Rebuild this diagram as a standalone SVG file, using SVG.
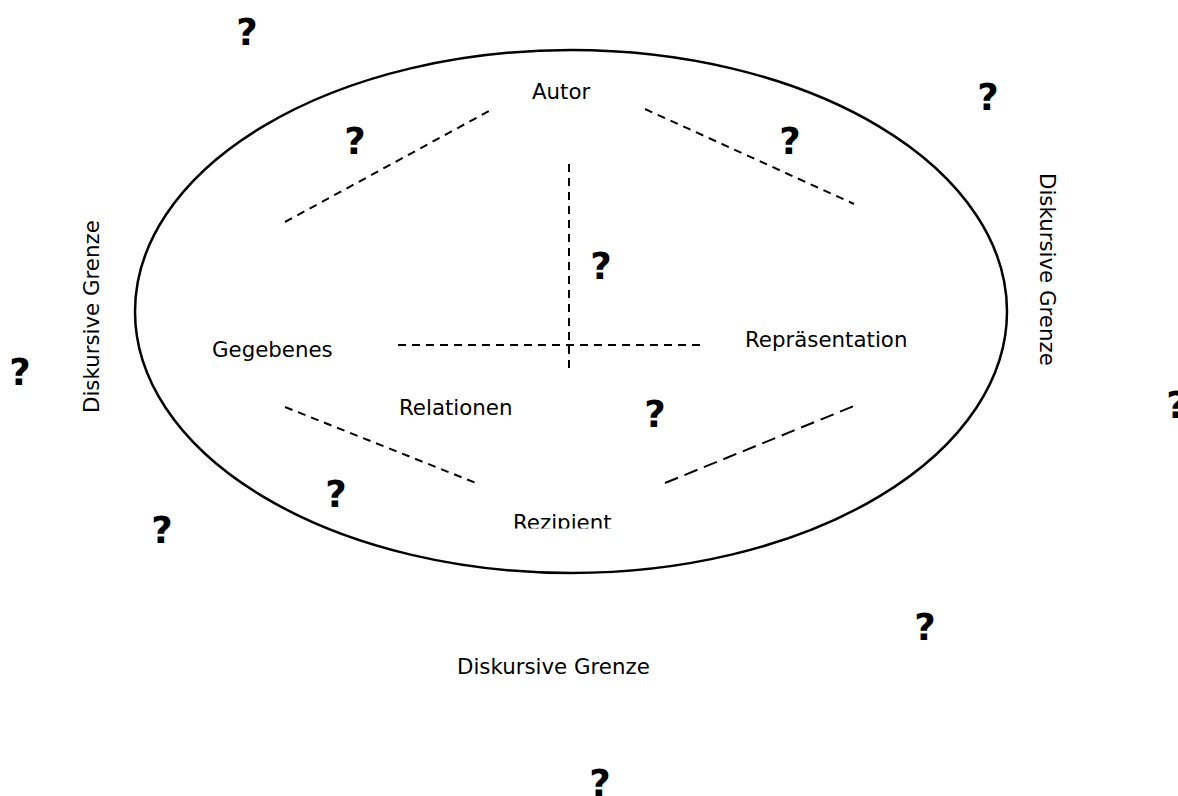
<svg xmlns="http://www.w3.org/2000/svg" width="1178" height="796" viewBox="0 0 1178 796">
<style>
.lbl{font-family:"DejaVu Sans","Verdana",sans-serif;font-size:21.33px;fill:#000}
.q{font-family:"DejaVu Sans","Verdana",sans-serif;font-size:37px;font-weight:bold;fill:#000;text-anchor:middle}
.d{stroke:#000;stroke-width:2;fill:none;stroke-dasharray:8 6}
.d2{stroke:#000;stroke-width:2;fill:none;stroke-dasharray:14 7}
</style>
<defs>
<clipPath id="clipR"><rect x="490" y="490" width="150" height="38.5"/></clipPath>
</defs>
<rect width="1178" height="796" fill="#fff"/>
<g id="boundary">
<ellipse cx="571" cy="311.5" rx="436" ry="261.5" fill="none" stroke="#000" stroke-width="2.5"/>
</g>
<g id="connectors">
<line class="d" x1="285" y1="222" x2="489" y2="111"/>
<line class="d" x1="645" y1="109" x2="854" y2="204"/>
<line class="d" x1="569" y1="164" x2="569" y2="369"/>
<line class="d" x1="398" y1="345" x2="703" y2="345"/>
<line class="d" x1="285" y1="407" x2="476" y2="483"/>
<line class="d2" x1="665" y1="483" x2="854" y2="406"/>
</g>
<g id="autor"><text class="lbl" x="532" y="99">Autor</text></g>
<g id="gegebenes"><text class="lbl" x="212" y="357">Gegebenes</text></g>
<g id="relationen"><text class="lbl" x="399" y="415">Relationen</text></g>
<g id="repraesentation"><text class="lbl" x="745" y="347">Repräsentation</text></g>
<g id="rezipient"><text class="lbl" x="513" y="530" clip-path="url(#clipR)">Rezipient</text></g>
<g id="grenze-left"><text class="lbl" transform="translate(99,413) rotate(-90)">Diskursive Grenze</text></g>
<g id="grenze-right"><text class="lbl" transform="translate(1040,173) rotate(90)">Diskursive Grenze</text></g>
<g id="grenze-bottom"><text class="lbl" x="457" y="674">Diskursive Grenze</text></g>
<g id="questions">
<text class="q" x="247" y="45">?</text>
<text class="q" x="988" y="110">?</text>
<text class="q" x="355" y="154">?</text>
<text class="q" x="790" y="154">?</text>
<text class="q" x="601" y="279">?</text>
<text class="q" x="20" y="385">?</text>
<text class="q" x="655" y="427">?</text>
<text class="q" x="1177" y="418">?</text>
<text class="q" x="336" y="507">?</text>
<text class="q" x="162" y="543">?</text>
<text class="q" x="925" y="640">?</text>
<text class="q" x="600" y="796">?</text>
</g>
</svg>
